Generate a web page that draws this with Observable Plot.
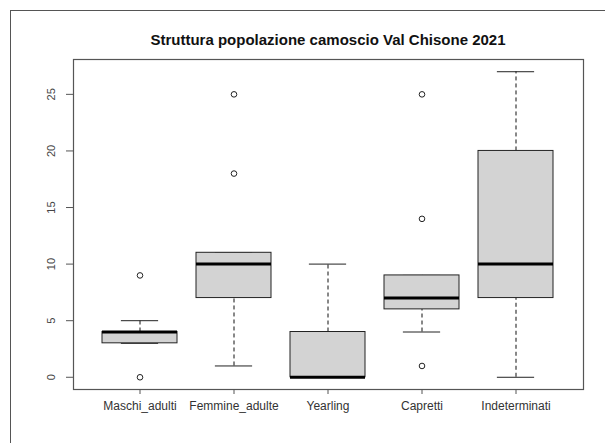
<!DOCTYPE html>
<html>
<head>
<meta charset="utf-8">
<script src="https://cdn.jsdelivr.net/npm/d3@7"></script>
<script src="https://cdn.jsdelivr.net/npm/@observablehq/plot@0.6"></script>
<style>
  html, body { margin: 0; padding: 0; background: #fff; overflow: hidden; }
  body { width: 605px; height: 443px; position: relative; font-family: "Liberation Sans", Arial, sans-serif; }
  #frame { position: absolute; left: 10px; top: 10px; width: 700px; height: 600px; border: 1.5px solid #555; pointer-events: none; z-index: 5; }
  #title { position: absolute; left: 73px; width: 510px; top: 31px; text-align: center; font-weight: bold; font-size: 15px; color: #111; }
  #chart { position: absolute; left: 0; top: 50px; }
</style>
</head>
<body>
<div id="title">Struttura popolazione camoscio Val Chisone 2021</div>
<div id="chart"></div>
<div id="frame"></div>
<script>
const categories = ["Maschi_adulti", "Femmine_adulte", "Yearling", "Capretti", "Indeterminati"];
const lowerWhisker = [3, 1, 0, 4, 0];
const q1 = [3, 7, 0, 6, 7];
const medians = [4, 10, 0, 7, 10];
const q3 = [4, 11, 4, 9, 20];
const upperWhisker = [5, 11, 10, 9, 27];
const outlierGroup = ["Maschi_adulti", "Maschi_adulti", "Femmine_adulte", "Femmine_adulte", "Capretti", "Capretti", "Capretti"];
const outlierValue = [9, 0, 18, 25, 1, 14, 25];
const yTicks = [0, 5, 10, 15, 20, 25];

const boxes = categories.map((c, i) => ({
  cat: c, lo: lowerWhisker[i], q1: q1[i], med: medians[i], q3: q3[i], hi: upperWhisker[i]
}));
const outliers = outlierGroup.map((c, i) => ({cat: c, v: outlierValue[i]}));

const width = 605, marginLeft = 73, marginRight = 22;
const step = (width - marginLeft - marginRight) / 5.4;
const capInset = step * 0.8 / 4;

const chart = Plot.plot({
  width: width,
  height: 393,
  marginTop: 9,
  marginBottom: 54,
  marginLeft: marginLeft,
  marginRight: marginRight,
  style: {fontFamily: "'Liberation Sans', Arial, sans-serif", fontSize: "11px", color: "#333", background: "transparent"},
  x: {type: "band", domain: categories, paddingInner: 0.2, paddingOuter: 0.3, label: null},
  y: {domain: [-1.08, 28.08], label: null},
  marks: [
    Plot.frame({stroke: "#555", strokeWidth: 1.2}),
    Plot.ruleX(boxes, {x: "cat", y1: "lo", y2: "q1", stroke: "#111", strokeDasharray: "4,3"}),
    Plot.ruleX(boxes, {x: "cat", y1: "q3", y2: "hi", stroke: "#111", strokeDasharray: "4,3"}),
    Plot.tickY(boxes, {x: "cat", y: "lo", stroke: "#222", insetLeft: capInset, insetRight: capInset}),
    Plot.tickY(boxes, {x: "cat", y: "hi", stroke: "#222", insetLeft: capInset, insetRight: capInset}),
    Plot.barY(boxes, {x: "cat", y1: "q1", y2: "q3", fill: "#d3d3d3", stroke: "#222", strokeWidth: 1}),
    Plot.tickY(boxes, {x: "cat", y: "med", stroke: "#000", strokeWidth: 3}),
    Plot.dot(outliers, {x: "cat", y: "v", r: 2.8, stroke: "#222", fill: "none", strokeWidth: 1}),
    Plot.axisY({ticks: yTicks, tickSize: 7, tickRotate: -90, tickPadding: 12, stroke: "#555", fill: "#444", label: null}),
    Plot.axisX({tickSize: 5, tickPadding: 7, stroke: "#555", fill: "#333", fontSize: 12, label: null})
  ]
});
document.getElementById("chart").appendChild(chart);
</script>
</body>
</html>
